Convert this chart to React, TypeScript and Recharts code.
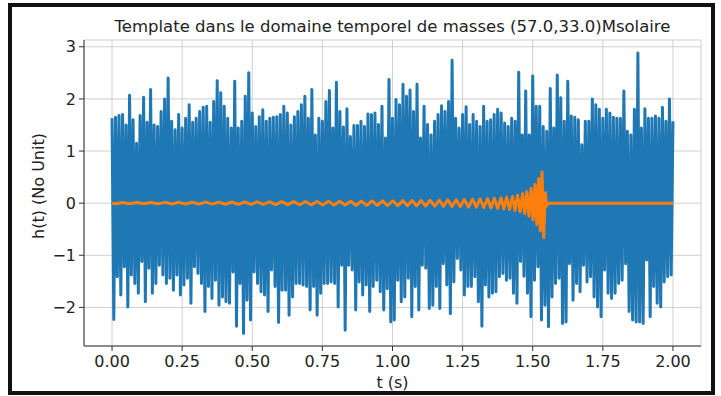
import React from "react";
import { LineChart, Line, XAxis, YAxis, CartesianGrid } from "recharts";

// Upper envelope of the noisy signal h(t), one value every 0.0125 s (t = 0 … 2.0)
const noiseHighs = [
  1.63, 1.65, 1.68, 1.70, 1.50, 2.07, 1.60, 1.15, 1.68, 2.03,
  1.55, 2.18, 1.50, 1.47, 1.76, 2.00, 2.40, 1.57, 1.41, 1.70,
  1.44, 1.63, 1.89, 1.55, 1.63, 1.76, 1.84, 1.86, 1.55, 1.95,
  2.35, 2.12, 1.86, 1.63, 1.44, 2.34, 1.44, 1.57, 2.05, 2.50,
  1.73, 1.47, 1.66, 1.79, 1.57, 1.63, 1.65, 1.66, 1.70, 1.86,
  1.73, 1.50, 1.66, 1.76, 1.89, 2.05, 1.63, 2.18, 1.31, 1.63,
  1.57, 1.95, 2.16, 1.44, 2.32, 1.76, 1.46, 1.81, 1.28, 1.49,
  1.49, 1.57, 1.47, 1.71, 1.70, 1.73, 1.51, 1.86, 1.25, 2.37,
  1.63, 1.99, 1.89, 2.28, 2.05, 2.17, 1.76, 2.28, 1.25, 1.86,
  1.51, 1.31, 1.57, 1.70, 1.87, 1.76, 1.95, 2.74, 1.63, 1.44,
  1.70, 1.85, 1.51, 1.70, 1.57, 1.47, 1.86, 1.57, 1.60, 1.70,
  1.80, 1.73, 1.54, 1.47, 1.63, 1.57, 2.51, 1.31, 2.15, 1.31,
  2.44, 1.86, 1.86, 1.47, 1.38, 2.20, 1.44, 2.46, 2.02, 1.57,
  2.34, 1.67, 1.65, 1.60, 1.12, 1.57, 1.57, 2.00, 1.89, 1.80,
  1.63, 1.80, 1.73, 1.65, 1.63, 1.63, 2.15, 1.38, 1.31, 1.80,
  2.88, 1.44, 1.81, 1.63, 1.63, 1.67, 1.63, 1.84, 1.57, 2.00,
  1.57,
];

// Lower envelope of the noisy signal, half a step after each upper value
const noiseLows = [
  -2.23, -1.41, -1.76, -1.22, -1.99, -1.38, -1.54, -1.73, -1.12, -1.89,
  -1.25, -1.73, -1.54, -1.19, -1.38, -1.54, -1.44, -1.67, -1.38, -1.76,
  -1.57, -1.44, -1.92, -1.22, -1.35, -1.54, -2.08, -1.60, -1.83, -1.48,
  -1.96, -1.80, -1.89, -1.92, -1.32, -2.36, -1.54, -2.50, -1.86, -2.24,
  -1.32, -1.54, -1.70, -1.76, -2.08, -1.28, -1.60, -2.29, -1.67, -1.67,
  -2.15, -1.80, -1.54, -1.54, -1.57, -1.60, -2.05, -1.60, -2.15, -1.73,
  -1.54, -1.54, -1.51, -1.54, -1.99, -1.19, -2.44, -1.19, -1.28, -2.05,
  -1.51, -1.76, -1.57, -2.08, -1.60, -1.48, -1.70, -2.05, -1.64, -2.28,
  -2.24, -1.48, -1.89, -1.80, -1.44, -2.18, -1.60, -2.05, -1.19, -1.25,
  -2.02, -1.96, -1.60, -2.02, -1.16, -1.57, -2.12, -1.51, -1.06, -1.28,
  -1.76, -1.60, -1.60, -1.41, -1.89, -2.36, -1.57, -1.80, -1.73, -1.70,
  -1.41, -1.35, -1.48, -1.44, -1.73, -1.92, -1.12, -1.40, -1.73, -2.18,
  -1.48, -1.22, -2.24, -1.96, -2.37, -1.80, -1.54, -1.44, -2.31, -2.28,
  -1.16, -1.86, -1.54, -1.70, -1.19, -1.51, -1.41, -1.80, -1.99, -2.18,
  -1.28, -1.73, -1.83, -1.73, -1.54, -1.48, -1.16, -2.08, -2.24, -2.28,
  -2.28, -2.31, -1.09, -2.18, -1.60, -1.92, -1.99, -1.51, -1.41, -1.38,
];

const NOISE_STEP = 0.00625;

// Template (chirp) extremes: [t (s), h(t)]
const chirpPoints: [number, number][] = [
  [0, 0], [0.012, -0.012], [0.037, 0.012], [0.0625, -0.012], [0.088, 0.013],
  [0.1135, -0.013], [0.139, 0.014], [0.164, -0.014], [0.189, 0.015], [0.2135, -0.015],
  [0.238, 0.016], [0.262, -0.017], [0.286, 0.018], [0.31, -0.018], [0.334, 0.019],
  [0.3575, -0.019], [0.381, 0.02], [0.404, -0.021], [0.427, 0.022], [0.45, -0.022],
  [0.473, 0.023], [0.495, -0.024], [0.517, 0.025], [0.5395, -0.025], [0.562, 0.026],
  [0.5835, -0.027], [0.605, 0.028], [0.6265, -0.029], [0.648, 0.03], [0.669, -0.03],
  [0.69, 0.031], [0.7105, -0.032], [0.731, 0.033], [0.7515, -0.034], [0.772, 0.035],
  [0.7915, -0.035], [0.811, 0.036], [0.831, -0.037], [0.851, 0.038], [0.87, -0.039],
  [0.889, 0.04], [0.908, -0.041], [0.927, 0.042], [0.9455, -0.043], [0.964, 0.044],
  [0.9825, -0.045], [1.001, 0.046], [1.019, -0.047], [1.037, 0.048], [1.0535, -0.049],
  [1.07, 0.05], [1.086, -0.051], [1.102, 0.053], [1.118, -0.054], [1.134, 0.056],
  [1.1505, -0.057], [1.167, 0.059], [1.182, -0.06], [1.197, 0.062], [1.212, -0.064],
  [1.227, 0.066], [1.2415, -0.068], [1.256, 0.07], [1.271, -0.072], [1.286, 0.075],
  [1.299, -0.077], [1.312, 0.08], [1.3255, -0.083], [1.339, 0.087], [1.351, -0.091],
  [1.363, 0.095], [1.375, -0.1], [1.387, 0.105], [1.397, -0.11], [1.407, 0.115],
  [1.4175, -0.122], [1.428, 0.13], [1.437, -0.14], [1.446, 0.15], [1.455, -0.165],
  [1.464, 0.18], [1.4715, -0.2], [1.479, 0.22], [1.4865, -0.25], [1.494, 0.28],
  [1.501, -0.32], [1.508, 0.36], [1.5145, -0.41], [1.521, 0.47], [1.527, -0.53],
  [1.533, 0.6], [1.539, -0.66], [1.545, 0.2], [1.549, -0.06], [1.553, 0], [2.0, 0],
];

const xTicks = [0, 0.25, 0.5, 0.75, 1.0, 1.25, 1.5, 1.75, 2.0];
const yTicks = [-2, -1, 0, 1, 2, 3];
const xDomain: [number, number] = [-0.1, 2.1];
const yDomain: [number, number] = [-2.74, 3.13];

const titleText = "Template dans le domaine temporel de masses (57.0,33.0)Msolaire";
const xLabelText = "t (s)";
const yLabelText = "h(t) (No Unit)";

const noiseData = [] as { t: number; h: number }[];
for (let k = 0; k < noiseHighs.length + noiseLows.length; k++) {
  noiseData.push({
    t: +(k * NOISE_STEP).toFixed(5),
    h: k % 2 === 0 ? noiseHighs[k / 2] : noiseLows[(k - 1) / 2],
  });
}
const chirpData = chirpPoints.map(([t, h]) => ({ t, h }));

const FONT = "'DejaVu Sans', sans-serif";
const tickStyle = { fontSize: 16, fill: "#222", fontFamily: FONT };
const fmtY = (v: number) => String(v).replace("-", "\u2212");

export default function App() {
  return (
    <div style={{ position: "absolute", left: 0, top: 0, width: 721, height: 396, background: "#fff" }}>
      <LineChart width={721} height={396} margin={{ top: 40, right: 20, bottom: 0, left: 0 }}>
        <CartesianGrid stroke="#cfcfcf" strokeWidth={1} />
        <XAxis
          dataKey="t"
          type="number"
          domain={xDomain}
          ticks={xTicks}
          allowDataOverflow
          height={50}
          tickFormatter={(v: number) => v.toFixed(2)}
          tick={tickStyle}
          tickSize={5}
          tickMargin={5}
          stroke="#333"
          tickLine={{ stroke: "#333" }}
          axisLine={{ stroke: "#333" }}
        />
        <XAxis
          xAxisId="top"
          orientation="top"
          type="number"
          domain={xDomain}
          allowDataOverflow
          height={0}
          tick={false}
          tickLine={false}
          axisLine={{ stroke: "#333" }}
        />
        <YAxis
          type="number"
          domain={yDomain}
          ticks={yTicks}
          allowDataOverflow
          width={84}
          tickFormatter={fmtY}
          tick={tickStyle}
          tickSize={5}
          tickMargin={3}
          tickLine={{ stroke: "#333" }}
          axisLine={{ stroke: "#333" }}
        />
        <YAxis
          yAxisId="right"
          orientation="right"
          type="number"
          domain={yDomain}
          allowDataOverflow
          width={0}
          tick={false}
          tickLine={false}
          axisLine={{ stroke: "#333" }}
        />
        <Line
          data={noiseData}
          dataKey="h"
          type="linear"
          stroke="#1f77b4"
          strokeWidth={3}
          strokeLinejoin="round"
          dot={false}
          isAnimationActive={false}
        />
        <Line
          data={chirpData}
          dataKey="h"
          type="linear"
          stroke="#ff7f0e"
          strokeWidth={3}
          strokeLinejoin="round"
          dot={false}
          isAnimationActive={false}
        />
      </LineChart>
      <svg
        width={721}
        height={396}
        style={{ position: "absolute", left: 0, top: 0, pointerEvents: "none" }}
      >
        <text x={392.5} y={32} textAnchor="middle" fontFamily={FONT} fontSize={16.5} fill="#222">
          {titleText}
        </text>
        <text x={392.5} y={388} textAnchor="middle" fontFamily={FONT} fontSize={16} fill="#222">
          {xLabelText}
        </text>
        <text
          x={38}
          y={186}
          textAnchor="middle"
          dominantBaseline="central"
          fontFamily={FONT}
          fontSize={16}
          fill="#222"
          transform="rotate(-90 38 186)"
        >
          {yLabelText}
        </text>
      </svg>
      <div
        style={{
          position: "absolute",
          left: 8,
          top: 3,
          width: 699,
          height: 384,
          border: "4px solid #111",
          pointerEvents: "none",
        }}
      />
    </div>
  );
}
